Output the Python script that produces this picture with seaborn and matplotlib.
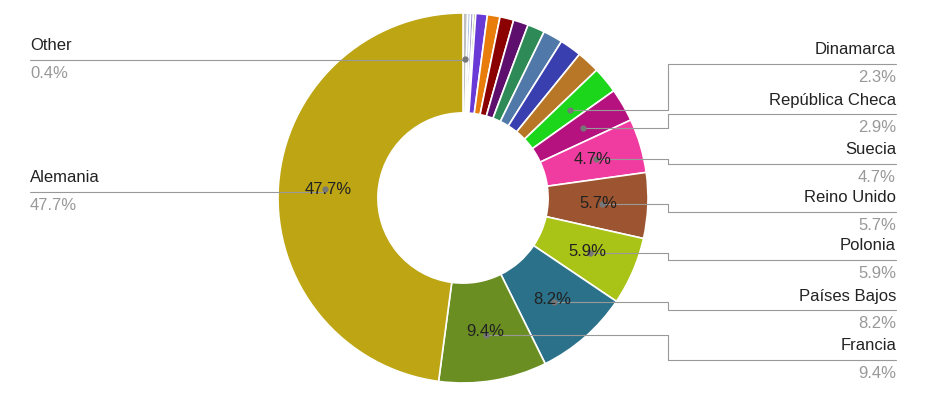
import numpy as np
import matplotlib
matplotlib.use("Agg")
import matplotlib.pyplot as plt
import seaborn as sns

sns.set_theme(style="white")
plt.rcParams['font.family'] = ['Liberation Sans', 'DejaVu Sans']

countries = ["Other", "Luxemburgo", "Irlanda", "Portugal", "Grecia", "Finlandia", "Hungría",
             "Eslovaquia", "Rumanía", "Austria", "Bélgica", "Italia", "España",
             "Dinamarca", "República Checa", "Suecia", "Reino Unido", "Polonia",
             "Países Bajos", "Francia", "Alemania"]
values = [0.4, 0.25, 0.25, 0.2, 1.0, 1.1, 1.2, 1.3, 1.5, 1.7, 1.9, 2.0,
          0.0, 2.3, 2.9, 4.7, 5.7, 5.9, 8.2, 9.4, 47.7]
colors = ["#c0c0c0", "#a9c4e0", "#9a8fd0", "#8ab04a", "#6a3ad6", "#e87d0c", "#8b0000",
          "#5e0f6e", "#2e8b57", "#5078a8", "#3a3fb0", "#b87727", "#ffffff",
          "#1bd61b", "#b5127f", "#f03ca0", "#9c5530", "#aac317",
          "#2b7189", "#6b8e23", "#bda514"]
# drop zero placeholder
keep = [i for i, v in enumerate(values) if v > 0]
countries = [countries[i] for i in keep]
values = [values[i] for i in keep]
colors = [colors[i] for i in keep]

W, H = 933, 404
CX, CY, R = 463, 198, 185
fig = plt.figure(figsize=(W / 100, H / 100), dpi=100)
ax = fig.add_axes([(CX - R) / W, (H - CY - R) / H, 2 * R / W, 2 * R / H])
wedges, _ = ax.pie(values, colors=colors, startangle=90, counterclock=False,
                   radius=1, wedgeprops=dict(width=0.54, edgecolor="white", linewidth=1.2))
ax.set_xlim(-1, 1); ax.set_ylim(-1, 1); ax.set_aspect("equal")
ax.axis("off")

ov = fig.add_axes([0, 0, 1, 1], zorder=5)
ov.set_xlim(0, W); ov.set_ylim(H, 0); ov.axis("off")

def pos(i, r):
    w = wedges[i]
    a = np.deg2rad((w.theta1 + w.theta2) / 2)
    return CX + r * R * np.cos(a), CY - r * R * np.sin(a)

total = sum(values)
for i, (n, v) in enumerate(zip(countries, values)):
    if v >= 4.5:
        x, y = pos(i, 0.73)
        ov.text(x, y, f"{v:.1f}%", ha="center", va="center", fontsize=12, color="#222222")

lc = "#999999"
# left labels
left = {"Other": 46, "Alemania": 178}
for n, ty in left.items():
    i = countries.index(n)
    dx, dy = pos(i, 0.75 if n != "Other" else 0.75)
    ly = ty + 14
    ov.plot([30, dx - 10 if False else dx], [ly, ly] if n == "Alemania" else [ly, ly], color=lc, lw=0.8)
    if n == "Other":
        ov.plot([dx, dx], [ly, dy], color=lc, lw=0.8)
    ov.plot(dx, dy, "o", color="#777777", ms=3.5)
    ov.text(30, ty, n, ha="left", va="center", fontsize=12, color="#222222")
    ov.text(30, ty + 28, f"{values[i]:.1f}%", ha="left", va="center", fontsize=12, color="#999999")

right = ["Dinamarca", "República Checa", "Suecia", "Reino Unido", "Polonia", "Países Bajos", "Francia"]
ys = [50, 100, 150, 198, 246, 296, 346]
for n, ty in zip(right, ys):
    i = countries.index(n)
    dx, dy = pos(i, 0.75)
    ly = ty + 14
    ov.plot([896, 668, 668, dx], [ly, ly, dy, dy], color=lc, lw=0.8)
    ov.plot(dx, dy, "o", color="#777777", ms=3.5)
    ov.text(896, ty, n, ha="right", va="center", fontsize=12, color="#222222")
    ov.text(896, ty + 28, f"{values[i]:.1f}%", ha="right", va="center", fontsize=12, color="#999999")

fig.savefig("out.png", dpi=100, facecolor="white")
